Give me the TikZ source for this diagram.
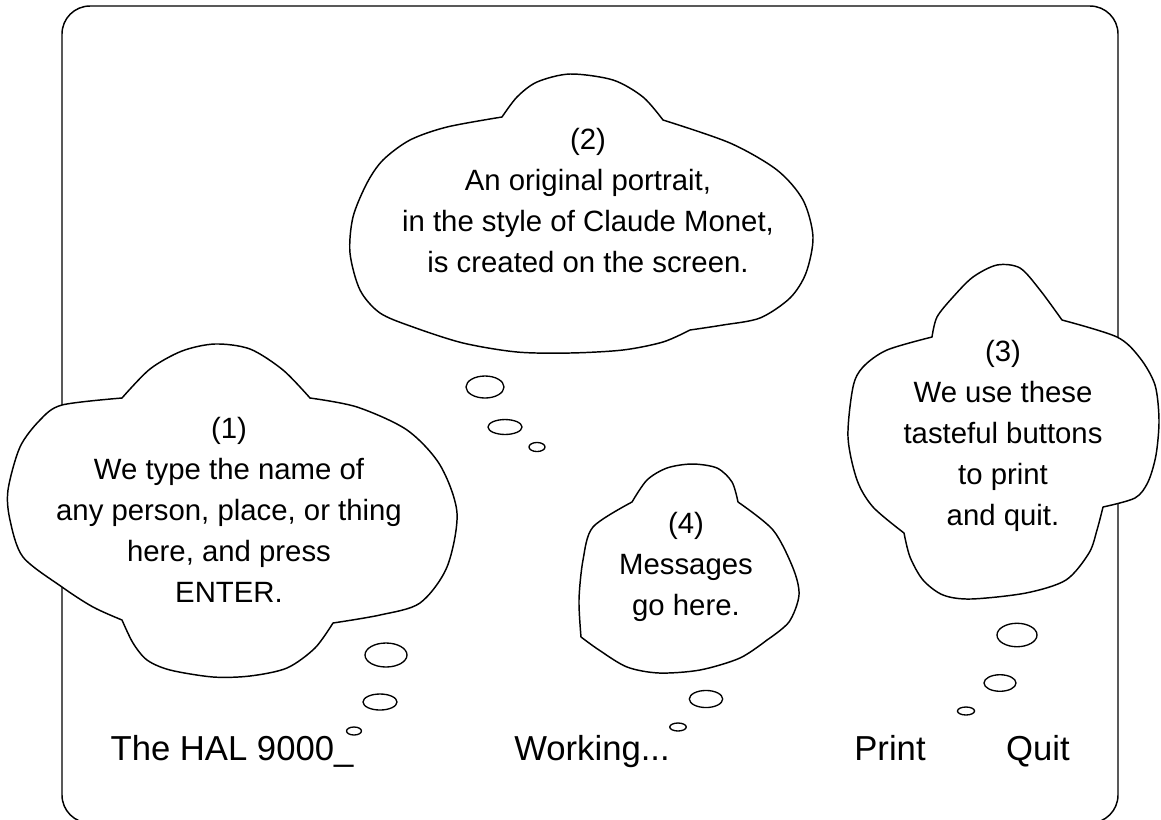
\documentclass[tikz,border=0pt]{standalone}
\usepackage{fontspec}
\setmainfont{Liberation Sans}
\usepackage{tikz}

\tikzset{
  cloudline/.style={draw, fill=white, line width=1.1pt, line join=round},
  bubble/.style={draw, fill=white, line width=1pt},
  cloudtext/.style={align=center, inner sep=0pt, font=\fontsize{22}{30.75}\selectfont},
  bartext/.style={anchor=base, inner sep=0pt, font=\fontsize{26}{31}\selectfont}
}

\begin{document}
\begin{tikzpicture}[x=0.75pt, y=-0.75pt]
\useasboundingbox (0,0) rectangle (1161,819);
% screen frame
\draw[line width=1.1pt, rounded corners=21pt] (62,6) rectangle (1118,823);

% cloud (1)
\draw[cloudline] plot[smooth] coordinates {(122,398) (150,369) (182,351) (215,344) (250,349) (283,370) (310,398)}
  -- plot[smooth] coordinates {(310,398) (357,407) (407,430) (440,465) (457,513) (447,567) (420,603) (380,615) (333,623)}
  -- plot[smooth] coordinates {(333,623) (315,648) (287,668) (250,676) (213,677) (170,670) (147,660) (133,643) (122,620)}
  -- plot[smooth] coordinates {(122,620) (93,607) (62,587) (23,557) (10,520) (8,490) (20,447) (40,420) (62,405) (122,398)} -- cycle;
% cloud (2)
\draw[cloudline] plot[smooth] coordinates {(502,117) (517,97) (537,82) (570,74) (613,80) (643,97) (663,120)}
  -- plot[smooth] coordinates {(663,120) (730,143) (777,170) (803,200) (813,237) (806,273) (790,298) (760,318) (723,325) (690,330)}
  -- plot[smooth] coordinates {(690,330) (663,342) (623,350) (570,353) (517,352) (463,343) (413,327) (380,313) (360,290) (350,253) (353,217) (367,183) (383,160) (410,140) (447,127) (502,117)} -- cycle;
% cloud (3)
\draw[cloudline] plot[smooth] coordinates {(932,337) (937,317) (953,297) (973,277) (997,265) (1020,268) (1040,290) (1062,320)}
  -- plot[smooth] coordinates {(1062,320) (1117,337) (1140,358) (1155,385) (1159,420) (1156,455) (1148,482) (1135,498) (1103,507)}
  -- plot[smooth] coordinates {(1103,507) (1097,530) (1089,553) (1066,580) (1026,593) (971,599) (943,595) (923,580) (910,557) (904,533)}
  -- plot[smooth] coordinates {(904,533) (873,507) (857,480) (848,437) (853,387) (863,367) (887,350) (932,337)} -- cycle;
% cloud (4)
\draw[cloudline] plot[smooth] coordinates {(632,502) (647,480) (667,468) (692,464) (717,468) (732,482) (738,502)}
  -- plot[smooth] coordinates {(738,502) (773,530) (793,568) (799,595) (789,622) (767,640)}
  -- plot[smooth] coordinates {(767,640) (740,658) (700,670) (659,673) (627,667) (599,650) (581,637)}
  -- plot[smooth] coordinates {(581,637) (579,600) (583,560) (593,527) (632,502)} -- cycle;

% thought bubbles
\draw[bubble] (386,655) ellipse [x radius=15.75pt, y radius=9pt];
\draw[bubble] (380,702) ellipse [x radius=12.75pt, y radius=6pt];
\draw[bubble] (354,731) ellipse [x radius=5.6pt, y radius=3pt];
\draw[bubble] (485,387) ellipse [x radius=14.25pt, y radius=8.25pt];
\draw[bubble] (505,427) ellipse [x radius=12.75pt, y radius=5.6pt];
\draw[bubble] (537,447) ellipse [x radius=6pt, y radius=3.4pt];
\draw[bubble] (1017,635) ellipse [x radius=15pt, y radius=8.8pt];
\draw[bubble] (1000,683) ellipse [x radius=12pt, y radius=6.2pt];
\draw[bubble] (966,711) ellipse [x radius=6.4pt, y radius=3pt];
\draw[bubble] (706,699) ellipse [x radius=12.5pt, y radius=6.4pt];
\draw[bubble] (678,727) ellipse [x radius=6.2pt, y radius=3pt];

% texts
\node[cloudtext] (msg1) at (229,510) {(1)\\We type the name of\\any person, place, or thing\\here, and press\\ENTER.};
\node[cloudtext] (msg2) at (588,201) {(2)\\An original portrait,\\in the style of Claude Monet,\\is created on the screen.};
\node[cloudtext] (msg3) at (1003,436) {(3)\\We use these\\tasteful buttons\\to print\\and quit.};
\node[cloudtext] (msg4) at (686,567) {(4)\\Messages\\go here.};
\node[bartext] (title) at (232,760) {The HAL 9000\_};
\node[bartext] (status) at (592,760) {Working...};
\node[bartext] (print) at (890,760) {Print};
\node[bartext] (quit) at (1038,760) {Quit};
\end{tikzpicture}
\end{document}
